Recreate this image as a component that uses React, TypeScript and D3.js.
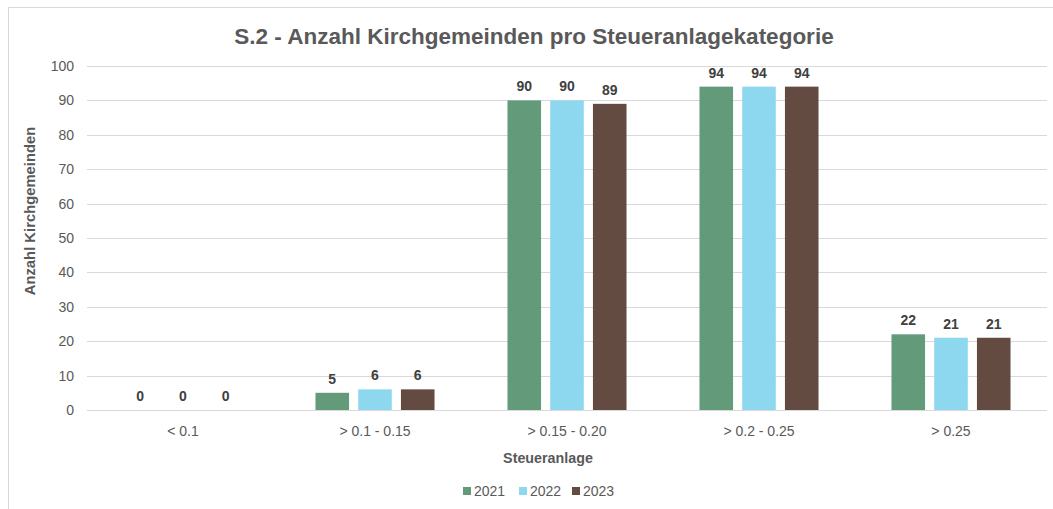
import * as d3 from 'd3';

const categories = ['< 0.1', '> 0.1 - 0.15', '> 0.15 - 0.20', '> 0.2 - 0.25', '> 0.25'];
const seriesNames = ['2021', '2022', '2023'];
const values2021 = [0, 5, 90, 94, 22];
const values2022 = [0, 6, 90, 94, 21];
const values2023 = [0, 6, 89, 94, 21];
const yTicks = [0, 10, 20, 30, 40, 50, 60, 70, 80, 90, 100];

const colors = ['#639A7A', '#8DD7EF', '#634B41'];
const font = '"Liberation Sans", Arial, sans-serif';

export default function App() {
  const width = 1053;
  const height = 509;
  const margin = { top: 66, right: 6, bottom: 99, left: 87 };

  const series = [values2021, values2022, values2023];

  const x0 = d3
    .scaleBand<string>()
    .domain(categories)
    .range([margin.left, width - margin.right])
    .paddingInner(0.38)
    .paddingOuter(0.19);

  const x1 = d3
    .scaleBand<string>()
    .domain(seriesNames)
    .range([0, x0.bandwidth()])
    .paddingInner(0.214);

  const y = d3
    .scaleLinear()
    .domain([0, 100])
    .range([height - margin.bottom, margin.top]);

  return (
    <svg
      width={width}
      height={height}
      style={{ position: 'absolute', left: 0, top: 0, fontFamily: font }}
    >
      <rect x={0} y={0} width={width} height={height} fill="#fff" />
      <rect x={8.5} y={7.5} width={width + 20} height={height + 20} fill="#fff" stroke="#D9D9D9" />

      <text
        x={534}
        y={44}
        textAnchor="middle"
        fontSize={22.5}
        fontWeight="bold"
        fill="#595959"
      >
        S.2 - Anzahl Kirchgemeinden pro Steueranlagekategorie
      </text>

      {yTicks.map((t) => (
        <g key={t}>
          <line
            x1={margin.left}
            x2={width - margin.right}
            y1={Math.round(y(t)) + 0.5}
            y2={Math.round(y(t)) + 0.5}
            stroke="#D9D9D9"
            strokeWidth={1}
          />
          <text x={74} y={y(t)} dy="0.35em" textAnchor="end" fontSize={14} fill="#595959">
            {t}
          </text>
        </g>
      ))}

      {categories.map((c, ci) => (
        <g key={c} transform={`translate(${x0(c)},0)`}>
          {seriesNames.map((s, si) => {
            const v = series[si][ci];
            const bx = x1(s)!;
            const bw = x1.bandwidth();
            return (
              <g key={s}>
                {v > 0 && (
                  <rect
                    x={bx}
                    y={y(v)}
                    width={bw}
                    height={y(0) - y(v)}
                    fill={colors[si]}
                  />
                )}
                <text
                  x={bx + bw / 2}
                  y={y(v) - 9}
                  textAnchor="middle"
                  fontSize={14}
                  fontWeight="bold"
                  fill="#404040"
                >
                  {v}
                </text>
              </g>
            );
          })}
          <text
            x={x0.bandwidth() / 2}
            y={y(0) + 21}
            dy="0.35em"
            textAnchor="middle"
            fontSize={14}
            fill="#595959"
          >
            {c}
          </text>
        </g>
      ))}

      <text
        x={548}
        y={458}
        dy="0.35em"
        textAnchor="middle"
        fontSize={14.3}
        fontWeight="bold"
        fill="#595959"
      >
        Steueranlage
      </text>

      <text
        transform={`translate(30, 211) rotate(-90)`}
        dy="0.35em"
        textAnchor="middle"
        fontSize={14.8}
        fontWeight="bold"
        fill="#595959"
      >
        Anzahl Kirchgemeinden
      </text>

      {seriesNames.map((s, i) => {
        const lx = [463, 519, 572][i];
        return (
          <g key={s} transform={`translate(${lx},487)`}>
            <rect x={0} y={0} width={8} height={8} fill={colors[i]} />
            <text x={11} y={4} dy="0.35em" fontSize={14} fill="#595959">
              {s}
            </text>
          </g>
        );
      })}
    </svg>
  );
}
